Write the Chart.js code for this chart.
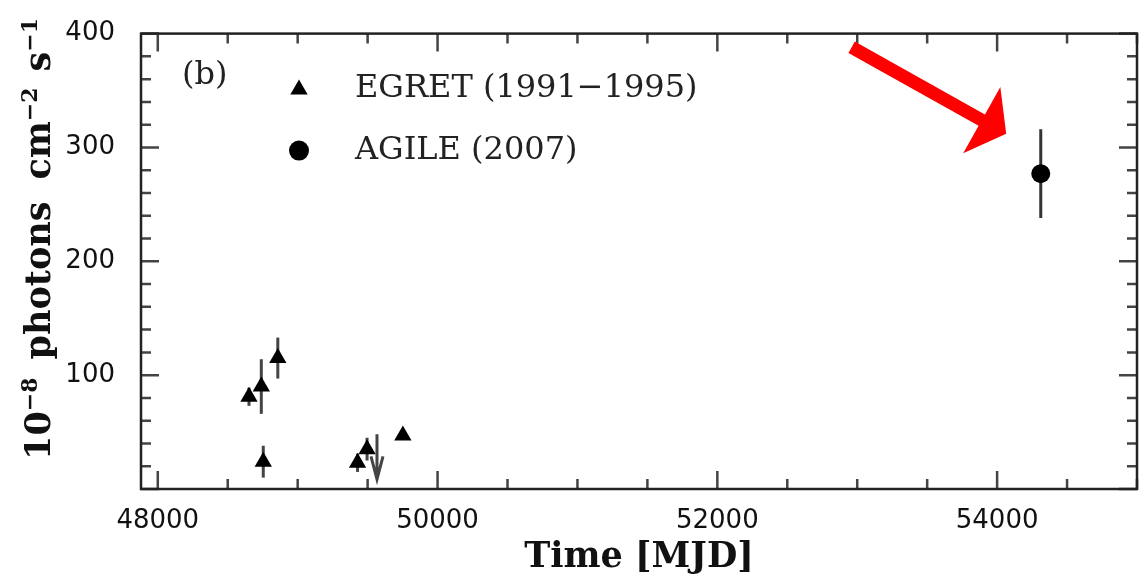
<!DOCTYPE html>
<html>
<head>
<meta charset="utf-8">
<script src="https://cdn.jsdelivr.net/npm/chart.js@4/dist/chart.umd.min.js"></script>
<style>
  html, body { margin: 0; padding: 0; background: #fff; }
</style>
</head>
<body>
<canvas id="chart" width="1147" height="579"></canvas>
<script>
// EGRET points (MJD, flux, 1-sigma error)
const egretMjd = [48652, 48740, 48858, 48754, 49428, 49496, 49752];
const egretFlux = [81, 90, 115, 24, 23, 35, 47];
const egretErr = [8, 24, 18, 14, 8, 10, 4];

// EGRET upper limit
const limitMjd = [49567];
const limitFlux = [48];

// AGILE point
const agileMjd = [54312];
const agileFlux = [277];
const agileErr = [39];

const xTickLabels = [48000, 50000, 52000, 54000];
const yTickLabels = [100, 200, 300, 400];
const xMinorStep = 500;
const yMinorStep = 20;

const legendLabels = ['EGRET (1991\u22121995)', 'AGILE (2007)'];
const panelLabel = '(b)';
// y title pieces: [text, superscript]
const yTitleParts = [['10', '\u22128'], ['photons', ''], ['cm', '\u22122'], ['s', '\u22121']];

// red arrow, from / to in data units
const arrowFrom = [52960, 388];
const arrowTo = [54065, 312];

const ctx = document.getElementById('chart').getContext('2d');

// frame, inward ticks, error bars, limits
const framePlugin = {
  id: 'frame',
  beforeDatasetsDraw(chart) {
    const { ctx, chartArea: a, scales: { x, y } } = chart;
    ctx.save();
    ctx.strokeStyle = '#444';
    ctx.lineWidth = 2.5;
    for (let v = 48000; v <= x.max; v += xMinorStep) {
      const px = x.getPixelForValue(v);
      const len = v % 2000 === 0 ? 18 : 10;
      ctx.beginPath();
      ctx.moveTo(px, a.bottom); ctx.lineTo(px, a.bottom - len);
      ctx.moveTo(px, a.top); ctx.lineTo(px, a.top + len);
      ctx.stroke();
    }
    for (let v = 0; v <= y.max; v += yMinorStep) {
      const py = y.getPixelForValue(v);
      const len = v % 100 === 0 ? 18 : 10;
      ctx.beginPath();
      ctx.moveTo(a.left, py); ctx.lineTo(a.left + len, py);
      ctx.moveTo(a.right, py); ctx.lineTo(a.right - len, py);
      ctx.stroke();
    }
    ctx.strokeStyle = '#222';
    ctx.lineWidth = 2.5;
    ctx.strokeRect(a.left, a.top, a.right - a.left, a.bottom - a.top);

    // error bars
    const bars = (mjd, flux, err, color) => {
      ctx.strokeStyle = color;
      ctx.lineWidth = 3;
      mjd.forEach((m, i) => {
        const px = x.getPixelForValue(m);
        ctx.beginPath();
        ctx.moveTo(px, y.getPixelForValue(flux[i] - err[i]));
        ctx.lineTo(px, y.getPixelForValue(flux[i] + err[i]));
        ctx.stroke();
      });
    };
    bars(egretMjd, egretFlux, egretErr, '#444');
    bars(agileMjd, agileFlux, agileErr, '#333');

    // upper limits (down arrows)
    ctx.strokeStyle = '#444';
    ctx.lineWidth = 3;
    limitMjd.forEach((m, i) => {
      const px = x.getPixelForValue(m);
      const py = y.getPixelForValue(limitFlux[i]);
      ctx.beginPath();
      ctx.moveTo(px, py); ctx.lineTo(px, py + 45);
      ctx.moveTo(px - 6, py + 22); ctx.lineTo(px, py + 45); ctx.lineTo(px + 6, py + 22);
      ctx.stroke();
    });
    ctx.restore();
  },
  afterDraw(chart) {
    const { ctx, chartArea: a, scales: { x, y } } = chart;
    ctx.save();
    // legend
    ctx.fillStyle = '#000';
    Chart.helpers.drawPoint(ctx, { pointStyle: 'triangle', radius: 10, rotation: 0, borderWidth: 0 }, a.left + 158, a.top + 56);
    Chart.helpers.drawPoint(ctx, { pointStyle: 'circle', radius: 10, rotation: 0, borderWidth: 0 }, a.left + 158, a.top + 117);
    ctx.font = '32px "DejaVu Serif"';
    ctx.fillStyle = '#222';
    ctx.textBaseline = 'middle';
    ctx.fillText(legendLabels[0], a.left + 214, a.top + 55);
    ctx.fillText(legendLabels[1], a.left + 214, a.top + 117);
    ctx.fillText(panelLabel, a.left + 41, a.top + 42);
    ctx.restore();

    // y axis title, rotated, with superscripts
    ctx.save();
    ctx.fillStyle = '#111';
    ctx.textBaseline = 'alphabetic';
    const mainFont = 'bold 35px "DejaVu Serif"';
    const supFont = 'bold 22px "DejaVu Serif"';
    const gaps = [18, 22, 16];
    let total = 0;
    yTitleParts.forEach(([t, s], i) => {
      ctx.font = mainFont; total += ctx.measureText(t).width;
      ctx.font = supFont; total += ctx.measureText(s).width;
      if (i < gaps.length) total += gaps[i];
    });
    ctx.translate(50, (10 + 468) / 2 + total / 2);
    ctx.rotate(-Math.PI / 2);
    let pos = 0;
    yTitleParts.forEach(([t, s], i) => {
      ctx.font = mainFont; ctx.fillText(t, pos, 0); pos += ctx.measureText(t).width;
      ctx.font = supFont; ctx.fillText(s, pos, -13); pos += ctx.measureText(s).width;
      if (i < gaps.length) pos += gaps[i];
    });
    ctx.restore();

    // red arrow
    ctx.save();
    const x0 = x.getPixelForValue(arrowFrom[0]), y0 = y.getPixelForValue(arrowFrom[1]);
    const x1 = x.getPixelForValue(arrowTo[0]), y1 = y.getPixelForValue(arrowTo[1]);
    const ang = Math.atan2(y1 - y0, x1 - x0);
    const len = Math.hypot(x1 - x0, y1 - y0);
    ctx.translate(x0, y0);
    ctx.rotate(ang);
    ctx.fillStyle = '#f00';
    ctx.beginPath();
    ctx.moveTo(0, -6.5);
    ctx.lineTo(len - 28, -6.5);
    ctx.lineTo(len - 28, -38);
    ctx.lineTo(len, 0);
    ctx.lineTo(len - 28, 38);
    ctx.lineTo(len - 28, 6.5);
    ctx.lineTo(0, 6.5);
    ctx.closePath();
    ctx.fill();
    ctx.restore();
  }
};

new Chart(ctx, {
  type: 'scatter',
  data: {
    datasets: [
      {
        label: legendLabels[0],
        data: egretMjd.map((m, i) => ({ x: m, y: egretFlux[i] })),
        pointStyle: 'triangle',
        pointRadius: 10,
        backgroundColor: '#000',
        borderWidth: 0,
      },
      {
        label: legendLabels[1],
        data: agileMjd.map((m, i) => ({ x: m, y: agileFlux[i] })),
        pointStyle: 'circle',
        pointRadius: 9.5,
        backgroundColor: '#000',
        borderWidth: 0,
      },
    ],
  },
  options: {
    responsive: false,
    animation: false,
    layout: { padding: { top: 25, right: 2, left: 0, bottom: 0 } },
    plugins: {
      legend: { display: false },
      tooltip: { enabled: false },
    },
    scales: {
      x: {
        type: 'linear',
        min: 47880,
        max: 55000,
        afterBuildTicks: s => { s.ticks = xTickLabels.map(v => ({ value: v })); },
        afterFit: s => { s.height = 90; },
        grid: { display: false },
        border: { display: false },
        ticks: {
          padding: 9,
          maxRotation: 0,
          color: '#111',
          font: { family: 'DejaVu Sans', size: 26 },
          callback: v => String(v),
        },
        title: {
          display: true,
          text: 'Time [MJD]',
          color: '#111',
          padding: { top: 0, bottom: 0 },
          font: { family: 'DejaVu Serif', size: 35, weight: 'bold' },
        },
      },
      y: {
        min: 0,
        max: 400,
        afterBuildTicks: s => { s.ticks = yTickLabels.map(v => ({ value: v })); },
        afterFit: s => { s.width = 141; },
        grid: { display: false },
        border: { display: false },
        ticks: {
          padding: 18,
          color: '#111',
          font: { family: 'DejaVu Sans', size: 26 },
        },
      },
    },
  },
  plugins: [framePlugin],
});
</script>
</body>
</html>
